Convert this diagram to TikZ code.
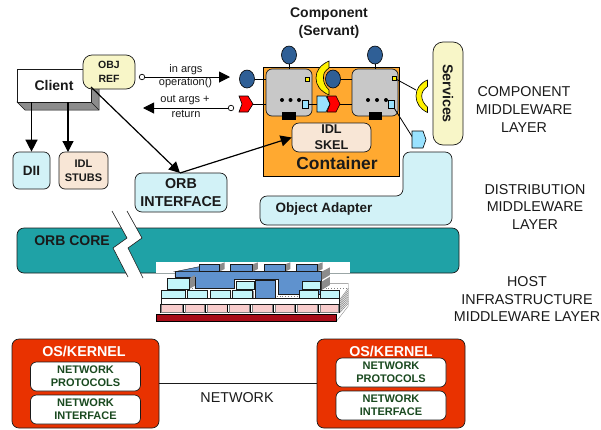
\documentclass[tikz,border=0pt]{standalone}
\usepackage{fontspec}
\setmainfont{Liberation Sans}
\usetikzlibrary{shapes.geometric,arrows.meta}
\definecolor{lblue}{HTML}{D2F2F7}
\definecolor{cream}{HTML}{F8F6C8}
\definecolor{peach}{HTML}{F8E6D6}
\definecolor{teal2}{HTML}{1FA2A6}
\definecolor{orng}{HTML}{FFA930}
\definecolor{osred}{HTML}{E93200}
\definecolor{dgreen}{HTML}{1A4A20}
\definecolor{gblue}{HTML}{2F5F96}
\definecolor{sgray}{HTML}{C8C8C8}
\definecolor{side}{HTML}{8C8C8C}
\definecolor{ink}{HTML}{1A1A1A}
\definecolor{stackblue}{HTML}{5F92CE}
\definecolor{stackcyan}{HTML}{C4F6FA}
\definecolor{stackpink}{HTML}{F8CCCC}
\definecolor{stackred}{HTML}{A80C18}
\definecolor{pentblue}{HTML}{99E2FF}
\tikzset{
  fs/.style={font=\fontsize{#1}{#1}\selectfont},
  fb/.style={font=\fontsize{#1}{#1}\selectfont\bfseries},
  rbox/.style={draw=ink,line width=0.7pt,rounded corners=6pt,inner sep=0pt,align=center,text=ink},
  plain/.style={inner sep=0pt,align=center,text=ink},
  thinline/.style={draw=black,line width=0.8pt},
  arrowa/.style={draw=black,line width=1.5pt,-{Triangle[length=12pt,width=12pt]}},
  arrowb/.style={draw=black,line width=1.2pt,-{Triangle[length=11pt,width=11pt]}},
  opencirc/.style={circle,draw=black,fill=white,line width=0.7pt,minimum size=5.5pt,inner sep=0pt},
  gblob/.style={ellipse,draw=black,fill=gblue,line width=0.6pt,minimum width=15pt,minimum height=18pt,inner sep=0pt},
  graybox/.style={draw=ink,fill=sgray,line width=0.7pt,rounded corners=6pt,inner sep=0pt,minimum width=46pt,minimum height=47pt},
  blk/.style={fill=black,inner sep=0pt,minimum width=13.5pt,minimum height=8pt},
  ysq/.style={draw=black,fill=yellow,line width=0.5pt,inner sep=0pt,minimum size=4pt},
  bsq/.style={draw=black,fill=pentblue,line width=0.5pt,inner sep=0pt,minimum width=6pt,minimum height=8pt},
  dotn/.style={circle,fill=black,inner sep=0pt,minimum size=4pt},
  poly/.style={draw=black,line width=0.6pt},
  sk/.style={draw=ink,line width=0.35pt},
}
\begin{document}
\begin{tikzpicture}[x=1pt,y=-1pt]
\useasboundingbox (0,0) rectangle (601,429);
\fill[white] (0,0) rectangle (601,429);

% ORB core with break
\node[rbox,fill=teal2,minimum width=442pt,minimum height=45pt,rounded corners=7pt] (core) at (238,250.5) {};
\node[plain,fb=14] (coretxt) at (72,241) {ORB CORE};
\fill[white] (112,211) -- (127,238) -- (113,248) -- (128,277) -- (143,278) -- (128,248) -- (142,238) -- (127,211) -- cycle;
\draw[sk,line width=0.6pt] (112,211) -- (127,238) -- (113,248) -- (128,277);
\draw[sk,line width=0.6pt] (127,211) -- (142,238) -- (128,248) -- (143,278);

% host infrastructure stack
\fill[white] (156,262) rectangle (350,273);
\begin{scope}[shift={(100,220)},x=0.3333pt,y=-0.3333pt]
  % back hatch
  \fill[white] (660,212) -- (685,190) -- (745,190) -- (745,255) -- (712,303) -- (660,303) -- cycle;
  \draw[sk,gray] (660,212) -- (685,190) -- (745,190) -- (745,258) -- (710,303);
  \foreach \k in {0,8,...,56}{\draw[gray,line width=0.5pt] (720,{238+\k*0.7}) -- (745,{205+\k*0.8});}
  \draw[gray,dotted,line width=0.9pt] (668,205) -- (742,205);
  \draw[gray,dotted,line width=0.9pt] (268,206) -- (400,206);
  \draw[gray,dotted,line width=0.9pt] (530,230) -- (600,230);
  % base
  \fill[stackred,draw=black,line width=0.3pt] (168,282) rectangle (710,303);
  % pink row
  \fill[white] (180,250) rectangle (718,280);
  \draw[sk] (180,252) rectangle (718,276);
  \foreach \a/\b in {182/245,254/312,322/380,386/448,456/516,524/583,592/650,660/716}{
    \fill[stackpink,draw=gray,line width=0.3pt] (\a,253) rectangle (\b,275);}
  \foreach \a in {249,317,383,451,519,587,654}{\draw[black,line width=0.8pt] (\a,253) -- (\a,275);}
  % white row
  \fill[white] (183,235) rectangle (718,252);
  \draw[sk] (183,235) rectangle (718,252);
  % big blue body
  \fill[stackblue,draw=ink,line width=0.4pt] (225,155) -- (665,155) -- (665,224) -- (535,224) -- (535,178) -- (403,178) -- (403,206) -- (285,206) -- (285,172) -- (225,172) -- cycle;
  \fill[stackblue,draw=ink,line width=0.4pt] (225,155) -- (298,140) -- (298,155) -- cycle;
  \fill[side] (665,155) -- (690,142) -- (690,165) -- (665,180) -- cycle;
  \fill[side] (665,185) -- (690,170) -- (690,195) -- (665,210) -- cycle;
  % towers
  \foreach \a/\b in {298/358,392/458,493/555,590/652}{
    \fill[side] (\b,133) -- ({\b+16},127) -- ({\b+16},147) -- (\b,155) -- cycle;
    \fill[stackblue,draw=ink,line width=0.4pt] (\a,133) rectangle (\b,155);}
  % middle block
  \fill[stackblue,draw=ink,line width=0.5pt] (465,182) rectangle (527,236);
  % cyan boxes
  \foreach \a/\b/\c/\d in {185/255/212/235,262/322/212/235,330/392/212/235,398/458/212/235,597/655/212/235,660/718/212/235,410/462/185/207,607/662/185/207}{
    \fill[stackcyan,draw=ink,line width=0.4pt] (\a,\c) rectangle (\b,\d);}
  \foreach \a/\b in {458/462}{\fill[side] (\a,212) rectangle (\b,235);}
  \fill[side] (268,175) -- (285,165) -- (285,197) -- (268,207) -- cycle;
  \fill[stackcyan,draw=ink,line width=0.4pt] (202,175) rectangle (268,207);
\end{scope}

% Object adapter
\draw[draw=ink,fill=lblue,line width=0.7pt,rounded corners=7pt] (403,152) -- (452,152) -- (452,225) -- (260,225) -- (260,196) -- (403,196) -- cycle;
\node[plain,fb=13.5] (oatxt) at (324,209) {Object Adapter};

% Container
\node[draw=black,fill=orng,line width=0.9pt,inner sep=0pt,minimum width=136pt,minimum height=109pt] (container) at (331,121.5) {};
\node[plain,fb=17.4] (conttxt) at (337,163) {Container};
\node[rbox,fill=peach,minimum width=79pt,minimum height=29pt,fb=12.7,rounded corners=7pt] (skel) at (331.5,137.5) {IDL\\[3.3pt]SKEL};

% Components
\node[graybox] (g1) at (289,92.5) {};
\node[graybox] (g2) at (375,92.5) {};
\node[gblob] (t1) at (289,55) {};
\node[gblob] (t2) at (375,55) {};
\node[gblob] (lft) at (247,79) {};
\node[gblob] (mid) at (333,79) {};
\draw[thinline] (t1) -- (g1);
\draw[thinline] (t2) -- (g2);
\draw[thinline] (lft) -- (lft -| g1.west);
\draw[thinline] (mid) -- (mid -| g2.west);
\node[blk] (b1) at (289,116) {};
\node[blk] (b2) at (375.5,116) {};
\node[ysq] (y1) at (307,79) {};
\node[ysq] (y2) at (394,78) {};
\node[bsq] (s1) at (305,104) {};
\node[bsq] (s2) at (391,104) {};
\foreach \x in {282,290.5,299}{\node[dotn] at (\x,100) {};}
\foreach \x in {368,377,386}{\node[dotn] at (\x,100) {};}

\coordinate (redl) at (253,104);
\coordinate (redm) at (340,104);
\coordinate (pentm) at (317,104);
\draw[thinline] (redl) -- (redl -| g1.west);
\draw[thinline] (s1) -- (pentm);
\draw[thinline] (redm) -- (redm -| g2.west);
\draw[poly,fill=red] (239,96) -- (248,96) -- (253,104) -- (248,112) -- (239,112) -- (242,104) -- cycle;
\draw[poly,fill=pentblue] (317,96) -- (326,96) -- (330,104) -- (326,112) -- (317,112) -- cycle;
\draw[poly,fill=red] (327,96) -- (336,96) -- (340,104) -- (336,112) -- (327,112) -- (330,104) -- cycle;
\draw[poly,fill=yellow] (329,61) .. controls (320,65) and (316,71) .. (316,78) .. controls (316,85) and (320,91) .. (329,95) -- (329,90) .. controls (325,86) and (323,82) .. (323.5,77) .. controls (323.5,73) and (325,71) .. (329,68) -- cycle;

% Services
\node[rbox,fill=cream,minimum width=30pt,minimum height=103pt,rounded corners=10pt] (serv) at (448,93.5) {};
\node[plain,fb=14.3,rotate=-90] (servtxt) at (448,93.5) {Services};
\coordinate (yr) at (416,90);
\coordinate (pr) at (413,138);
\draw[thinline] (y2) -- (yr);
\draw[thinline] (s2.south east) -- (pr);
\draw[poly,fill=yellow] (427.5,80) .. controls (420,83) and (416,89) .. (416,96) .. controls (416,103) and (420,109) .. (427.5,112.5) -- (427.5,107) .. controls (424,104) and (421.7,100) .. (421.7,96) .. controls (421.7,92) and (424,89) .. (427.5,86.5) -- cycle;
\draw[poly,fill=pentblue] (412,131) -- (423,131) -- (426,139.5) -- (423,148) -- (412,148) -- cycle;

% Client
\fill[side,draw=ink,line width=0.5pt] (17,102) -- (25,110) -- (99,110) -- (99,77) -- (91,69) -- (91,102) -- cycle;
\draw[ink,line width=0.5pt] (91,102) -- (99,110);
\node[draw=ink,fill=white,line width=0.7pt,inner sep=0pt,minimum width=74pt,minimum height=33pt,fb=14,text=ink] (client) at (54,85.5) {Client};
\node[rbox,fill=cream,minimum width=52pt,minimum height=34pt,rounded corners=9pt,fb=10.5] (objref) at (109,72) {OBJ\\[3.5pt]REF};
\node[rbox,fill=lblue,minimum width=37pt,minimum height=37pt,fb=13.5] (dii) at (31.5,170.5) {DII};
\node[rbox,fill=peach,minimum width=49pt,minimum height=37pt,fb=11] (stubs) at (83.5,170.5) {IDL\\[2.7pt]STUBS};
\node[rbox,fill=lblue,minimum width=92pt,minimum height=39pt,fb=14.3,rounded corners=7pt] (orbi) at (181,192.5) {ORB\\[3pt]INTERFACE};
\coordinate (st) at (68,152);
\draw[arrowa] (client.south -| dii.north) -- (dii.north);
\draw[arrowb] (client.south -| st) -- (st);
\coordinate (ot) at (180,173);
\coordinate (os) at (91,87);
\draw[arrowb] (os) -- (ot);
\draw[arrowb] (ot) -- (skel.west);

% invocation arrows
\node[opencirc] (c1) at (142,77) {};
\node[opencirc] (c2) at (231,108) {};
\coordinate (e1) at (230,77);
\coordinate (e2) at (143,108);
\draw[arrowb,line width=1pt] (c1) -- (e1);
\draw[arrowb,line width=1pt] (c2) -- (e2);
\node[plain,fs=11] (l1) at (186,70) {in args};
\node[plain,fs=11] (l2) at (185.5,83) {operation()};
\node[plain,fs=11] (l3) at (185,100) {out args +};
\node[plain,fs=11] (l4) at (186,114) {return};

\node[plain,fb=14] (comp) at (329,23.5) {Component\\[4pt](Servant)};

% Right labels
\node[plain,fs=14.3] (lay1) at (524,109.5) {COMPONENT\\[3.4pt]MIDDLEWARE\\[3.4pt]LAYER};
\node[plain,fs=14.3] (lay2) at (535,207) {DISTRIBUTION\\[3.4pt]MIDDLEWARE\\[3.4pt]LAYER};
\node[plain,fs=14.3] (lay3) at (527,299) {HOST\\[3.4pt]INFRASTRUCTURE\\[3.4pt]MIDDLEWARE LAYER};

% OS / network
\node[rbox,fill=osred,minimum width=147pt,minimum height=89pt,rounded corners=7pt] (os1) at (85.5,383.5) {};
\node[rbox,fill=osred,minimum width=148pt,minimum height=89pt,rounded corners=7pt] (os2) at (391,383.5) {};
\draw[ink,line width=0.8pt] (os1) -- (os2);
\node[plain,fs=14.3] (net) at (237,398) {NETWORK};
\node[plain,fb=14.3,text=white] (k1) at (84,351) {OS/KERNEL};
\node[plain,fb=14.3,text=white] (k2) at (391,351) {OS/KERNEL};
\foreach \n/\cx/\cy/\a/\b in {p1/85.5/376.5/NETWORK/PROTOCOLS,i1/85.5/409.5/NETWORK/INTERFACE,p2/391/372.5/NETWORK/PROTOCOLS,i2/391/405.5/NETWORK/INTERFACE}{
  \node[rbox,fill=white,minimum width=110pt,minimum height=29pt,fb=11,text=dgreen] (\n) at (\cx,\cy) {\a\\[2.3pt]\b};
}
\end{tikzpicture}
\end{document}
